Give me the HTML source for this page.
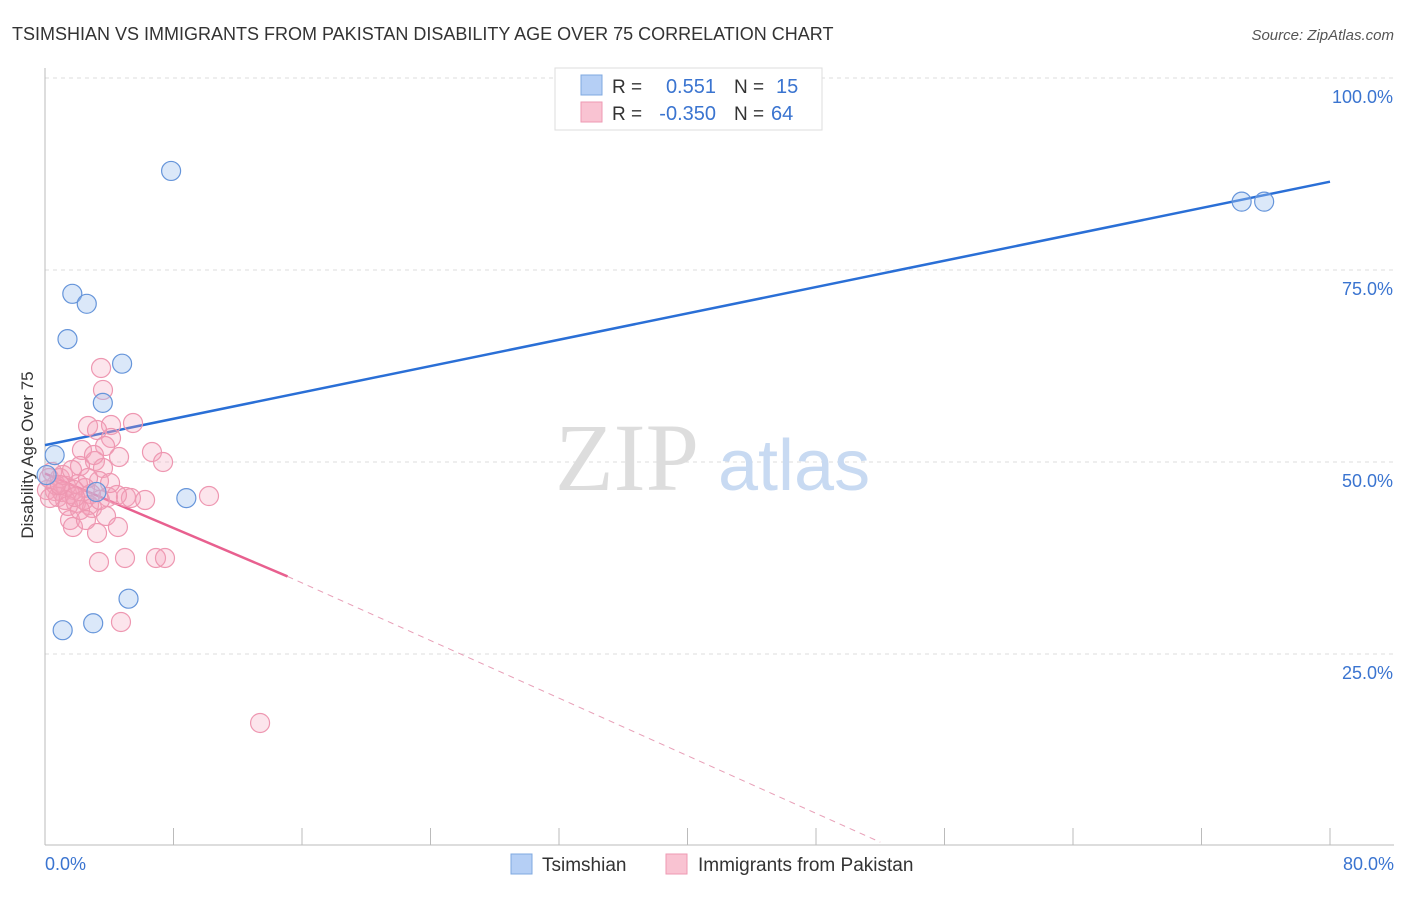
<!DOCTYPE html>
<html><head><meta charset="utf-8"><style>
body{margin:0;background:#fff;font-family:"Liberation Sans",sans-serif}
</style></head><body>
<svg width="1406" height="892" xmlns="http://www.w3.org/2000/svg">
<text x="12" y="40" font-size="18" fill="#333">TSIMSHIAN VS IMMIGRANTS FROM PAKISTAN DISABILITY AGE OVER 75 CORRELATION CHART</text>
<text x="1394" y="40" font-size="15" fill="#555" font-style="italic" text-anchor="end">Source: ZipAtlas.com</text>
<g id="grid"></g>
<text x="555" y="490" font-size="96" fill="#ddd" font-family="Liberation Serif">ZIP</text>
<text x="718" y="490" font-size="72" fill="#c8daf2">atlas</text>
<g id="axes"></g>
<g id="lines"></g>
<g id="pts"></g>
<text x="33" y="455" font-size="17" fill="#333" text-anchor="middle" transform="rotate(-90 33 455)">Disability Age Over 75</text>
<text x="45" y="870" font-size="18" fill="#3a74d0">0.0%</text>
<text x="1394" y="870" font-size="18" fill="#3a74d0" text-anchor="end">80.0%</text>
<g>
<rect x="555" y="68" width="267" height="62" fill="#fff" stroke="#ddd"/>
<rect x="581" y="75" width="21" height="20" fill="#b5cff5" stroke="#7fa8e0"/>
<rect x="581" y="102" width="21" height="20" fill="#f9c3d2" stroke="#ee9ab3"/>
<text x="612" y="93" font-size="19" fill="#333">R =</text>
<text x="716" y="93" font-size="20" fill="#3a74d0" text-anchor="end">0.551</text>
<text x="734" y="93" font-size="19" fill="#333">N =</text>
<text x="776" y="93" font-size="20" fill="#3a74d0">15</text>
<text x="612" y="120" font-size="19" fill="#333">R =</text>
<text x="716" y="120" font-size="20" fill="#3a74d0" text-anchor="end">-0.350</text>
<text x="734" y="120" font-size="19" fill="#333">N =</text>
<text x="771" y="120" font-size="20" fill="#3a74d0">64</text>
</g>
<g>
<rect x="511" y="854" width="21" height="20" fill="#b5cff5" stroke="#7fa8e0"/>
<text x="542" y="871" font-size="19" fill="#333">Tsimshian</text>
<rect x="666" y="854" width="21" height="20" fill="#f9c3d2" stroke="#ee9ab3"/>
<text x="698" y="871" font-size="19" fill="#333">Immigrants from Pakistan</text>
</g>
</svg>
<script>
const yTicks=[25,50,75,100];
const yTickLabels=["25.0%","50.0%","75.0%","100.0%"];
const xTicks=[0,8,16,24,32,40,48,56,64,72,80];
const blueX=[7.85,1.7,2.6,1.4,4.8,3.6,0.6,3.2,8.8,5.2,3.0,1.1,74.5,75.9,0.1];
const blueY=[87.9,71.9,70.6,66.0,62.8,57.7,50.9,46.1,45.3,32.2,29.0,28.1,83.9,83.9,48.3];
const pinkPx=[[101,368],[103,390],[133,423],[111,425],[88,426],[97,430],[111,438],[105,446],[82,450],[152,452],[119,457],[95,461],[163,462],[80,466],[103,468],[52,472],[60,478],[99,481],[78,484],[66,486],[85,488],[47,490],[55,491],[62,492],[70,494],[74,490],[91,494],[108,497],[126,497],[131,498],[145,500],[209,496],[58,497],[65,500],[76,503],[89,505],[92,508],[106,516],[70,520],[118,527],[97,533],[73,527],[99,562],[125,558],[156,558],[165,558],[121,622],[260,723],[49,478],[56,485],[84,500],[68,506],[100,500],[117,495],[63,475],[50,498],[80,510],[72,470],[88,478],[110,483],[94,455],[60,485],[75,497],[86,520]];
const pinkX=pinkPx.map(p=>+((p[0]-45)/1285*80).toFixed(2));
const pinkY=pinkPx.map(p=>+((846-p[1])/192*25).toFixed(2));
const blueTrend=[[0,52.2],[80,86.5]];
const pinkTrend=[[0,48.5],[15.1,35.1],[52,0.5]];
const X=v=>45+v/80*1285, Y=v=>846-v/25*192;
const NS="http://www.w3.org/2000/svg";
function mk(t,a,p){const e=document.createElementNS(NS,t);for(const k in a)e.setAttribute(k,a[k]);p.appendChild(e);return e;}
const grid=document.getElementById('grid'),axes=document.getElementById('axes');
yTicks.forEach((v,i)=>{
 const l=mk('line',{x1:45,x2:1394,y1:Y(v),y2:Y(v),stroke:'#ddd','stroke-dasharray':'4,4'},grid);
 
 
 const t=mk('text',{x:1393,y:Y(v)+25,'font-size':18,fill:'#3a74d0','text-anchor':'end'},grid);
 t.textContent=yTickLabels[i];
 
 
});
mk('line',{x1:45,x2:1394,y1:845,y2:845,stroke:'#bbb'},axes);
mk('line',{x1:45,x2:45,y1:68,y2:845,stroke:'#bbb'},axes);
xTicks.forEach(v=>{const l=mk('line',{x1:X(v),x2:X(v),y1:828,y2:845,stroke:'#bbb'},axes);
 
 });
const lines=document.getElementById('lines');
let b=mk('line',{x1:X(blueTrend[0][0]),y1:Y(blueTrend[0][1]),x2:X(blueTrend[1][0]),y2:Y(blueTrend[1][1]),stroke:'#2a6fd6','stroke-width':2.5},lines);


let p1=mk('line',{x1:X(pinkTrend[0][0]),y1:Y(pinkTrend[0][1]),x2:X(pinkTrend[1][0]),y2:Y(pinkTrend[1][1]),stroke:'#e8608f','stroke-width':2.5},lines);


let p2=mk('line',{x1:X(pinkTrend[1][0]),y1:Y(pinkTrend[1][1]),x2:X(pinkTrend[2][0]),y2:Y(pinkTrend[2][1]),stroke:'#e8a0b8','stroke-width':1,'stroke-dasharray':'6,5'},lines);


const pts=document.getElementById('pts');
pinkX.forEach((x,i)=>{const c=mk('circle',{cx:X(x),cy:Y(pinkY[i]),r:9.5,fill:'rgba(244,160,185,0.28)',stroke:'#ee97b1','stroke-width':1.2},pts);
 
 });
blueX.forEach((x,i)=>{const c=mk('circle',{cx:X(x),cy:Y(blueY[i]),r:9.5,fill:'rgba(160,195,240,0.38)',stroke:'#6695da','stroke-width':1.2},pts);
 
 });
</script>
</body></html>
